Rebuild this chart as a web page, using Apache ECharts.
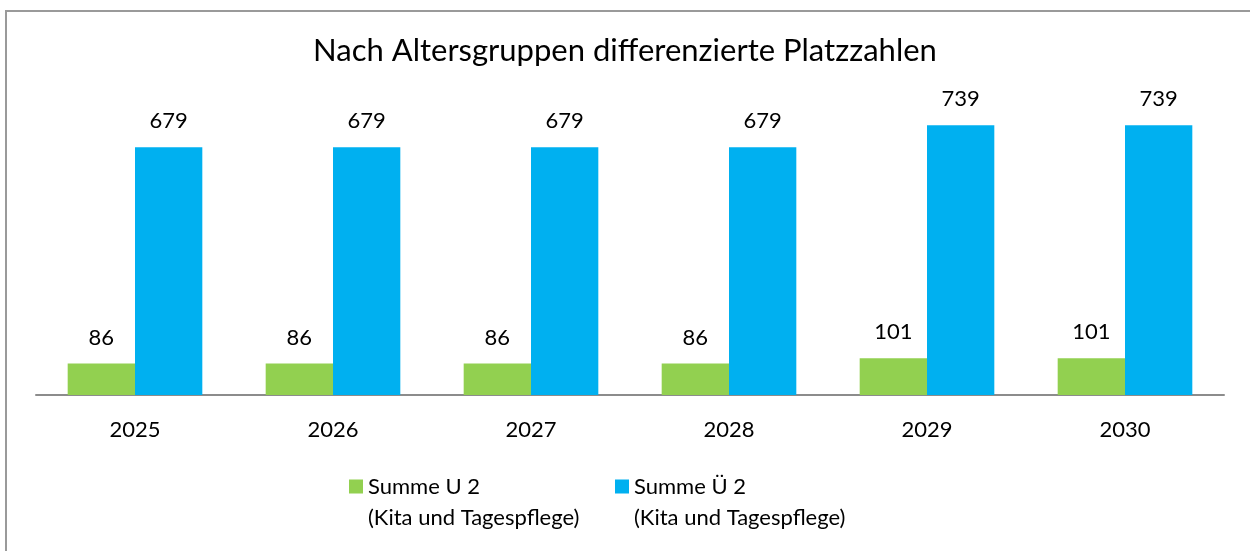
<!DOCTYPE html>
<html>
<head>
<meta charset="utf-8">
<style>
  html, body { margin: 0; padding: 0; background: #fff; }
  #chart { width: 1250px; height: 551px; }
</style>
</head>
<body>
<div id="chart"></div>
<script src="https://cdn.jsdelivr.net/npm/echarts@6/dist/echarts.min.js"></script>
<script>
  // Daten
  var years = ['2025', '2026', '2027', '2028', '2029', '2030'];
  var summeU2 = [86, 86, 86, 86, 101, 101];
  var summeUe2 = [679, 679, 679, 679, 739, 739];
  var nameU2 = 'Summe U 2\n(Kita und Tagespflege)';
  var nameUe2 = 'Summe Ü 2\n(Kita und Tagespflege)';

  var font = 'Lato';
  var chart = echarts.init(document.getElementById('chart'));

  var labelStyle = {
    show: true,
    position: 'top',
    distance: 15,
    color: '#000',
    fontFamily: font,
    fontSize: 22
  };

  // Quadrat oben, damit es neben der ersten Zeile sitzt
  var legendIcon = 'path://M0,0L14,0L14,14L0,14Z M0,45L14,45L14,45Z';
  var legendText = {
    color: '#000',
    fontFamily: font,
    fontSize: 22,
    lineHeight: 31
  };

  chart.setOption({
    animation: false,
    title: {
      text: 'Nach Altersgruppen differenzierte Platzzahlen',
      left: 'center',
      top: 30,
      textStyle: { fontFamily: font, fontSize: 31, fontWeight: 'normal', color: '#000' }
    },
    graphic: [{
      type: 'rect',
      shape: { x: 6, y: 11, width: 1300, height: 600 },
      style: { fill: 'none', stroke: '#9a9a9a', lineWidth: 2 },
      silent: true
    }],
    legend: [{
      data: [nameU2],
      left: 349,
      top: 471,
      padding: 0,
      itemWidth: 14,
      itemHeight: 45,
      icon: legendIcon,
      textStyle: legendText
    }, {
      data: [nameUe2],
      left: 615,
      top: 471,
      padding: 0,
      itemWidth: 14,
      itemHeight: 45,
      icon: legendIcon,
      textStyle: legendText
    }],
    grid: { left: 36, right: 26, top: 103, bottom: 156 },
    xAxis: {
      type: 'category',
      data: years,
      axisLine: { lineStyle: { color: '#8c8c8c', width: 2 } },
      axisTick: { show: false },
      axisLabel: { color: '#000', fontFamily: font, fontSize: 22, margin: 24 }
    },
    yAxis: {
      type: 'value',
      min: 0,
      max: 800,
      show: false,
      splitLine: { show: false }
    },
    series: [{
      name: nameU2,
      type: 'bar',
      data: summeU2,
      barGap: '0%',
      barCategoryGap: '32%',
      itemStyle: { color: '#92d050' },
      label: labelStyle
    }, {
      name: nameUe2,
      type: 'bar',
      data: summeUe2,
      barGap: '0%',
      barCategoryGap: '32%',
      itemStyle: { color: '#00b0f0' },
      label: labelStyle
    }]
  });
</script>
</body>
</html>
